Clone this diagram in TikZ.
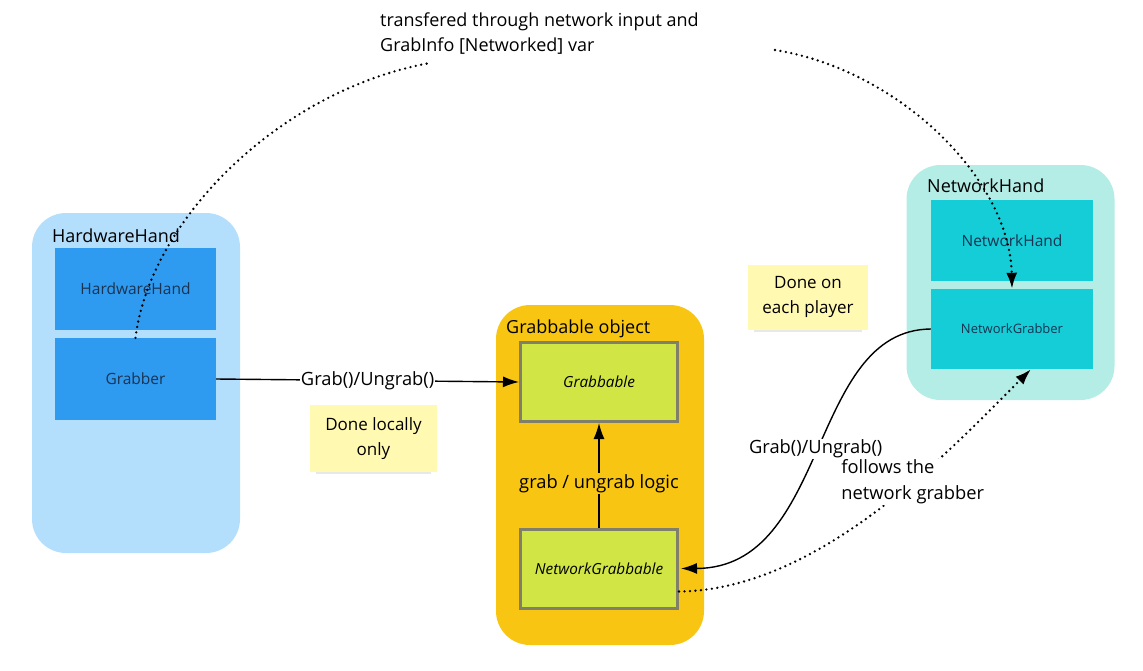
\documentclass[tikz,border=0pt]{standalone}
\usepackage{fontspec}
\setmainfont{Open Sans}
\usetikzlibrary{arrows.meta,shadows}

\definecolor{hwback}{HTML}{B3DEFC}
\definecolor{hwbox}{HTML}{2E9BF0}
\definecolor{grback}{HTML}{F8C513}
\definecolor{grbox}{HTML}{D1E545}
\definecolor{grline}{HTML}{80806A}
\definecolor{nwback}{HTML}{B4EDE6}
\definecolor{nwbox}{HTML}{14CDD6}
\definecolor{sticky}{HTML}{FFF9B1}
\definecolor{boxtext}{HTML}{1A3352}

\tikzset{
  container/.style={rounded corners=34pt, minimum width=208pt, minimum height=340pt},
  title/.style={anchor=base west, inner sep=0pt, font=\fontsize{18}{20}\selectfont},
  part/.style={minimum width=161pt, minimum height=82pt, text=boxtext, font=\fontsize{15.5}{18}\selectfont},
  logic/.style={fill=grbox, draw=grline, line width=3pt, minimum width=157pt, minimum height=79pt,
    font=\fontsize{15.3}{18}\selectfont\itshape},
  note/.style={fill=sticky, align=center, font=\fontsize{17}{25}\selectfont,
    drop shadow={shadow xshift=0pt, shadow yshift=-6pt, shadow scale=0.9, opacity=0.18}},
  lbl/.style={font=\fontsize{18.3}{26}\selectfont, inner sep=1pt},
  arr/.style={-{Latex[length=16pt,width=11pt]}, line width=1.4pt},
  dots/.style={line width=2.6pt, line cap=round, dash pattern=on 0pt off 5.5pt}
}

\begin{document}
\begin{tikzpicture}[x=1pt,y=-1pt]
\useasboundingbox (0,0) rectangle (1143,670);

% HardwareHand
\node[container, fill=hwback] (hwhand) at (136,383) {};
\node[title] at (52,242) {HardwareHand};
\node[part, fill=hwbox] (hwpart) at (135.5,289) {HardwareHand};
\node[part, fill=hwbox] (grabber) at (135.5,379) {Grabber};

% Grabbable object
\node[container, fill=grback] (grobj) at (600,475) {};
\node[title] at (506,333) {Grabbable object};
\node[logic] (grabbable) at (599,382) {Grabbable};
\node[logic] (ngrabbable) at (599,568.5) {NetworkGrabbable};

% NetworkHand
\node[container, fill=nwback, minimum height=235pt] (nwhand) at (1010.5,282.5) {};
\node[title] at (927,192) {NetworkHand};
\node[part, fill=nwbox, minimum width=162pt, minimum height=81pt] (nwpart) at (1012,240.5) {NetworkHand};
\node[part, fill=nwbox, minimum width=162pt, minimum height=80pt, font=\fontsize{13}{16}\selectfont] (ngrabber) at (1012,329) {NetworkGrabber};

% notes
\node[note, minimum width=120pt, minimum height=65pt] (eachnote) at (808,297) {Done on\\each player};
\node[note, minimum width=127pt, minimum height=67pt] (localnote) at (373.5,438.5) {Done locally\\only};

% local grab
\draw[arr] (grabber.east) -- (grabbable.west) node[lbl, midway, fill=white] {Grab()/Ungrab()};
\draw[arr] (ngrabbable.north) -- (grabbable.south) node[lbl, pos=0.42, fill=grback] {grab / ungrab logic};

% network grab
\draw[arr] (ngrabber.west) .. controls (808,330) and (830,568) .. ([xshift=2]ngrabbable.east)
  node[lbl, midway, fill=white] {Grab()/Ungrab()};
\draw[dots, -{Latex[length=16pt,width=11pt]}] ([yshift=-23]ngrabbable.east) .. controls (820,590) and (950,450) .. ([xshift=19]ngrabber.south)
  node[lbl, pos=0.6, fill=white, align=left] {follows the\\network grabber};

% grab info over the network
\coordinate (infoL) at (430,63);
\coordinate (infoR) at (775,50);
\node[lbl, anchor=north west, align=left, inner sep=0pt, font=\fontsize{18}{25}\selectfont] (info) at (380,13)
  {transfered through network input and\\GrabInfo [Networked] var};
\draw[dots] (grabber.north) .. controls (150,220) and (280,90) .. (infoL);
\draw[dots, -{Latex[length=16pt,width=11pt]}] (infoR) .. controls (900,70) and (1010,180) .. (ngrabber.north);
\end{tikzpicture}
\end{document}
